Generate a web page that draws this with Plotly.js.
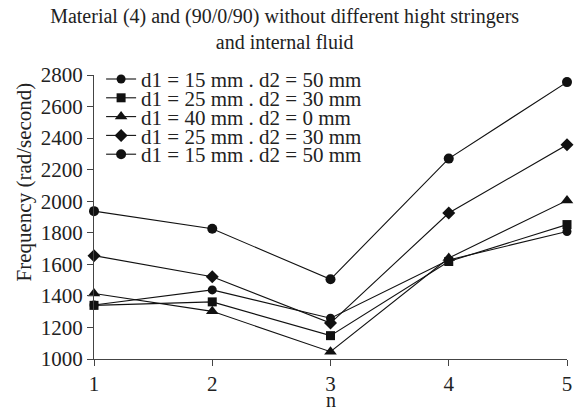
<!DOCTYPE html>
<html>
<head>
<meta charset="utf-8">
<script src="https://cdn.plot.ly/plotly-3.0.1.min.js"></script>
<style>html,body{margin:0;padding:0;background:#fff;}#chart{width:575px;height:412px;}</style>
</head>
<body>
<div id="chart"></div>
<script>
const n = [1, 2, 3, 4, 5];
const seriesNames = [
  "d1 = 15 mm . d2 = 50 mm",
  "d1 = 25 mm . d2 = 30 mm",
  "d1 = 40 mm . d2 = 0 mm",
  "d1 = 25 mm . d2 = 30 mm",
  "d1 = 15 mm . d2 = 50 mm"
];
const s1 = [1342, 1438, 1258, 1628, 1808];
const s2 = [1340, 1362, 1148, 1618, 1852];
const s3 = [1415, 1302, 1046, 1640, 2005];
const s4 = [1655, 1521, 1228, 1925, 2358];
const s5 = [1937, 1825, 1505, 2270, 2755];
const symbols = ["circle", "square", "triangle-up", "diamond", "circle"];
const sizes = [9, 9, 11, 10, 10];
const allSeries = [s1, s2, s3, s4, s5];
const yTitle = "Frequency (rad/second)";
const xTitle = "n";

const traces = allSeries.map((ys, i) => ({
  x: n, y: ys, name: seriesNames[i], type: "scatter", mode: "lines+markers",
  line: {color: "#111", width: 1.1},
  marker: {symbol: symbols[i], size: sizes[i], color: "#111"},
  cliponaxis: false
}));

const font = "Liberation Serif, Times New Roman, serif";
const txt = "#222";
const layout = {
  width: 575, height: 412,
  margin: {l: 94, r: 8, t: 75, b: 53},
  paper_bgcolor: "#fff", plot_bgcolor: "#fff",
  font: {family: font, color: txt},
  title: {text: "Material (4) and (90/0/90) without different hight stringers<br>and internal fluid",
    font: {family: font, size: 20, color: txt}, x: 0.495, xanchor: "center", y: 0.945, yanchor: "top"},
  showlegend: true,
  legend: {x: 0.015, y: 1.07, xanchor: "left", yanchor: "top", bgcolor: "rgba(0,0,0,0)",
    font: {family: font, size: 21, color: txt}, tracegroupgap: 0, itemwidth: 30},
  xaxis: {range: [1, 5], tickvals: n, ticktext: ["1","2","3","4","5"], ticks: "outside", ticklen: 6,
    tickcolor: "#444", showline: true, linecolor: "#444", linewidth: 1, showgrid: false, zeroline: false,
    tickfont: {family: font, size: 21, color: txt}},
  yaxis: {range: [1000, 2800], tickvals: [1000,1200,1400,1600,1800,2000,2200,2400,2600,2800],
    ticks: "outside", ticklen: 6, tickcolor: "#444", showline: true, linecolor: "#444", linewidth: 1,
    showgrid: false, zeroline: false, tickfont: {family: font, size: 21, color: txt}},
  annotations: [
    {text: yTitle, textangle: -90, xref: "paper", yref: "paper",
     x: -0.148, y: 0.625, xanchor: "center", yanchor: "middle", showarrow: false,
     font: {family: font, size: 21, color: txt}},
    {text: xTitle, xref: "paper", yref: "paper", x: 0.5, y: -0.143,
     xanchor: "center", yanchor: "middle", showarrow: false,
     font: {family: font, size: 20, color: txt}}
  ]
};
Plotly.newPlot("chart", traces, layout, {displayModeBar: false, staticPlot: true}).then(gd => {
  // tighten legend row spacing to match the reference
  const leg = gd.querySelector(".legend");
  if (!leg) return;
  const m = /translate\(\s*([-\d.]+)[ ,]+([-\d.]+)/.exec(leg.getAttribute("transform") || "");
  const ly = m ? parseFloat(m[2]) : 0;
  const items = leg.querySelectorAll(".traces");
  items.forEach((g, i) => {
    const t = /translate\(\s*([-\d.]+)[ ,]+([-\d.]+)/.exec(g.getAttribute("transform") || "");
    const ix = t ? parseFloat(t[1]) : 0;
    g.setAttribute("transform", "translate(" + ix + "," + (79 - ly + i * 18.8) + ")");
  });
});
</script>
</body>
</html>
